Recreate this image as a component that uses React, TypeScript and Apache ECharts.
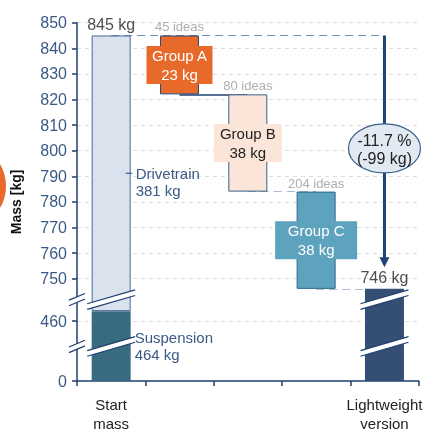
import React, { useEffect, useRef } from 'react';
import * as echarts from 'echarts';

// ---------- data ----------
const categories = ['Start\nmass', '', '', '', 'Lightweight\nversion'];
const partNames = ['Suspension', 'Drivetrain'];
const partMass = [464, 381];
const groupNames = ['Group A', 'Group B', 'Group C'];
const groupSavings = [23, 38, 38];
const groupIdeas = [45, 80, 204];
const yTickValues = [0, 460, 750, 760, 770, 780, 790, 800, 810, 820, 830, 840, 850];

// ---------- broken axis definition (kg -> axis units) ----------
const AXIS_KG = [0, 460, 464, 740, 850];
const AXIS_POS = [0, 23.4, 27.3, 30, 140];
const BREAK_POS = [31.8, 13.5];

function interp(v: number, xs: number[], ys: number[]) {
  for (let i = 0; i < xs.length - 1; i++) {
    if (v <= xs[i + 1] || i === xs.length - 2) {
      const t = (v - xs[i]) / (xs[i + 1] - xs[i]);
      return ys[i] + t * (ys[i + 1] - ys[i]);
    }
  }
  return ys[0];
}
const toAxis = (kg: number) => interp(kg, AXIS_KG, AXIS_POS);
const fromAxis = (p: number) => interp(p, AXIS_POS, AXIS_KG);

// ---------- styles ----------
const NAVY = '#1f3f6e';
const TICK_TEXT = '#3b5a84';
const SUSP_COLOR = '#386a80';
const DRIVE_FILL = '#dae2ee';
const DRIVE_BORDER = '#4a6a96';
const FINAL_COLOR = '#354f74';
const GROUP_FILL = ['#e86a2b', '#fbe5d9', '#5ea3bd'];
const GROUP_BORDER = ['#2b4a74', '#3e5f8a', '#2f6688'];
const GROUP_TEXT = ['#ffffff', '#222222', '#ffffff'];
const GROUP_BOX_W = [66, 68, 82];
const GRID_LEFT = 77;
const BAR_W = 39;
const FONT = '"Liberation Sans", Arial, sans-serif';

export default function App() {
  const ref = useRef<HTMLDivElement>(null);

  useEffect(() => {
    if (!ref.current) return;
    const chart = echarts.init(ref.current, undefined, { renderer: 'svg' });

    const startMass = partMass.reduce((a, b) => a + b, 0);
    const tops: number[] = [];
    const bottoms: number[] = [];
    let run = startMass;
    groupSavings.forEach((s) => {
      tops.push(run);
      run -= s;
      bottoms.push(run);
    });
    const finalMass = run;

    const lowerData: any[] = [
      {
        value: toAxis(partMass[0]),
        itemStyle: { color: SUSP_COLOR },
        label: {
          show: true,
          position: 'right',
          distance: 4,
          formatter: `${partNames[0]}\n${partMass[0]} kg`,
          color: TICK_TEXT,
          fontSize: 15,
          lineHeight: 17.5,
          fontFamily: FONT,
        },
      },
      ...bottoms.map((b) => ({ value: toAxis(b), itemStyle: { color: 'rgba(0,0,0,0)' } })),
      { value: toAxis(finalMass), itemStyle: { color: FINAL_COLOR } },
    ];

    const upperData: any[] = [
      {
        value: toAxis(startMass) - toAxis(partMass[0]),
        itemStyle: { color: DRIVE_FILL, borderColor: DRIVE_BORDER, borderWidth: 1 },
        label: {
          show: true,
          position: 'right',
          distance: 5,
          offset: [0, 8.5],
          formatter: `${partNames[1]}\n${partMass[1]} kg`,
          color: TICK_TEXT,
          fontSize: 15,
          lineHeight: 17.5,
          fontFamily: FONT,
        },
      },
      ...groupSavings.map((s, i) => ({
        value: toAxis(tops[i]) - toAxis(bottoms[i]),
        itemStyle: { color: GROUP_FILL[i], borderColor: GROUP_BORDER[i], borderWidth: 1 },
        label: {
          show: true,
          position: 'inside',
          formatter: `${groupNames[i]}\n${s} kg`,
          width: GROUP_BOX_W[i],
          height: 38,
          backgroundColor: GROUP_FILL[i],
          color: GROUP_TEXT[i],
          fontSize: 15,
          lineHeight: 19,
          align: 'center',
          verticalAlign: 'middle',
          fontFamily: FONT,
        },
      })),
      '-',
    ];

    const dashedTop = { type: [8, 5], color: '#7090b8', width: 1.2 };
    const dashedLight = { type: [8, 5], color: '#a9bbd2', width: 1.2 };

    const option: any = {
      animation: false,
      textStyle: { fontFamily: FONT },
      grid: { left: GRID_LEFT, right: 2.3, top: 22.7, bottom: 50.3 },
      xAxis: {
        type: 'category',
        data: categories,
        boundaryGap: true,
        axisLine: { lineStyle: { color: NAVY, width: 1.5 } },
        axisTick: { show: true, length: 5, lineStyle: { color: NAVY, width: 1.5 } },
        axisLabel: { color: '#222', fontSize: 15, lineHeight: 19, margin: 14, interval: 0, fontFamily: FONT },
        splitLine: { show: false },
      },
      yAxis: {
        type: 'value',
        min: 0,
        max: 140,
        name: 'Mass [kg]',
        nameLocation: 'middle',
        nameGap: 54,
        nameRotate: 90,
        nameTextStyle: { fontWeight: 'bold', fontSize: 14, color: '#111', fontFamily: FONT },
        axisLine: { show: true, lineStyle: { color: NAVY, width: 1.5 } },
        axisTick: {
          show: true,
          length: 5,
          customValues: yTickValues.map(toAxis),
          lineStyle: { color: NAVY, width: 1.5 },
        },
        axisLabel: {
          customValues: yTickValues.map(toAxis),
          formatter: (v: number) => String(Math.round(fromAxis(v))),
          color: TICK_TEXT,
          fontSize: 16,
          margin: 10,
          fontFamily: FONT,
        },
        splitLine: { show: false },
      },
      series: [
        {
          type: 'bar',
          name: 'lower',
          stack: 'w',
          barWidth: BAR_W,
          z: 2,
          data: lowerData,
          label: { show: false },
        },
        {
          type: 'bar',
          name: 'upper',
          stack: 'w',
          barWidth: BAR_W,
          z: 2,
          data: upperData,
          label: { show: false },
        },
        {
          type: 'scatter',
          name: 'totals',
          symbolSize: 0,
          z: 5,
          data: [
            { value: [0, toAxis(startMass)], name: `${startMass} kg` },
            { value: [4, toAxis(finalMass)], name: `${finalMass} kg` },
          ],
          label: { show: true, position: 'top', distance: 3, formatter: '{b}', color: '#222', fontSize: 16, fontFamily: FONT },
          markLine: {
            silent: true,
            symbol: 'none',
            z: 0,
            label: { show: false },
            lineStyle: { type: [4, 4], color: '#dedede', width: 1 },
            data: yTickValues.filter((t) => t !== 0).map((t) => ({ yAxis: toAxis(t) })),
          },
        },
        {
          type: 'scatter',
          name: 'ideas',
          symbolSize: 0,
          z: 5,
          data: groupIdeas.map((n, i) => ({ value: [i + 1, toAxis(tops[i])], name: `${n} ideas` })),
          label: { show: true, position: 'top', distance: 2, formatter: '{b}', color: '#999', fontSize: 13, fontFamily: FONT },
          markLine: {
            silent: true,
            symbol: 'none',
            z: 1,
            label: { show: false },
            data: [
              [{ coord: [0, toAxis(startMass)], lineStyle: dashedTop }, { coord: [4, toAxis(startMass)] }],
              [{ coord: [1, toAxis(bottoms[0])], lineStyle: { type: 'solid', color: NAVY, width: 1.5 } }, { coord: [2, toAxis(bottoms[0])] }],
              [{ coord: [2, toAxis(bottoms[1])], lineStyle: dashedLight }, { coord: [3, toAxis(bottoms[1])] }],
              [{ coord: [3, toAxis(bottoms[2])], lineStyle: dashedLight }, { coord: [4, toAxis(bottoms[2])] }],
            ],
          },
        },
      ],
    };

    chart.setOption(option);

    const P = (cat: number, a: number) => chart.convertToPixel({ gridIndex: 0 }, [cat, a]) as number[];

    const breakGlyph = (cx: number, cy: number, hw: number, slope: number, gap: number, color: string) => {
      const dy = hw * slope;
      return [
        {
          type: 'polygon',
          z: 100,
          silent: true,
          shape: { points: [[cx - hw, cy + dy - gap], [cx + hw, cy - dy - gap], [cx + hw, cy - dy + gap], [cx - hw, cy + dy + gap]] },
          style: { fill: '#ffffff' },
        },
        { type: 'line', z: 101, silent: true, shape: { x1: cx - hw, y1: cy + dy - gap, x2: cx + hw, y2: cy - dy - gap }, style: { stroke: color, lineWidth: 1.2 } },
        { type: 'line', z: 101, silent: true, shape: { x1: cx - hw, y1: cy + dy + gap, x2: cx + hw, y2: cy - dy + gap }, style: { stroke: color, lineWidth: 1.2 } },
      ];
    };

    const graphics: any[] = [];
    // breaks on axis and on the two full bars
    BREAK_POS.forEach((bp) => {
      const y = P(0, bp)[1];
      graphics.push(...breakGlyph(GRID_LEFT, y, 8, 0.42, 2.8, NAVY));
      graphics.push(...breakGlyph(P(0, bp)[0], y, 24, 0.29, 2.8, NAVY));
      graphics.push(...breakGlyph(P(4, bp)[0], y, 24, 0.29, 2.8, NAVY));
    });

    // drivetrain pointer tick
    const dMid = (toAxis(partMass[0]) + toAxis(startMass)) / 2;
    const dp = P(0, dMid);
    const barRight = dp[0] + BAR_W / 2;
    graphics.push({ type: 'line', z: 50, silent: true, shape: { x1: barRight - 5, y1: dp[1], x2: barRight + 1.5, y2: dp[1] }, style: { stroke: TICK_TEXT, lineWidth: 1.2 } });

    // reduction arrow
    const topPt = P(4, toAxis(startMass));
    const finPt = P(4, toAxis(finalMass));
    const ax = topPt[0];
    const tip = finPt[1] - 21.5;
    graphics.push({ type: 'line', z: 60, silent: true, shape: { x1: ax, y1: topPt[1], x2: ax, y2: tip - 8 }, style: { stroke: '#1d4576', lineWidth: 3 } });
    graphics.push({ type: 'polygon', z: 60, silent: true, shape: { points: [[ax - 5, tip - 10], [ax + 5, tip - 10], [ax, tip]] }, style: { fill: '#1d4576' } });

    const diff = finalMass - startMass;
    const pct = ((diff / startMass) * 100).toFixed(1);
    const ecy = (topPt[1] + tip) / 2 - 3;
    graphics.push({ type: 'ellipse', z: 70, silent: true, shape: { cx: ax, cy: ecy, rx: 36, ry: 24.5 }, style: { fill: '#e1e9f3', stroke: '#3d5d8a', lineWidth: 1.2 } });
    graphics.push({
      type: 'text',
      z: 71,
      silent: true,
      x: ax,
      y: ecy + 1,
      style: { text: `${pct} %\n(${diff} kg)`, fill: '#222', fontSize: 16, lineHeight: 18, fontFamily: FONT, align: 'center', verticalAlign: 'middle' },
    });

    // orange fragment on the left edge
    graphics.push({ type: 'ellipse', z: 10, silent: true, shape: { cx: -30, cy: 186, rx: 36, ry: 40 }, style: { fill: '#e8692b' } });

    chart.setOption({ graphic: graphics });

    return () => chart.dispose();
  }, []);

  return <div ref={ref} style={{ position: 'fixed', left: 0, top: 0, width: 425, height: 433 }} />;
}
